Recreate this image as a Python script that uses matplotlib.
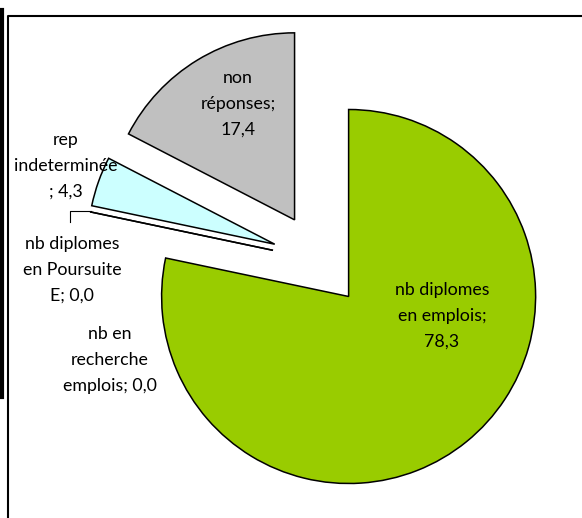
import matplotlib
matplotlib.use("Agg")
import matplotlib.pyplot as plt
from matplotlib.lines import Line2D

# données
categories = ["nb diplomes en emplois", "nb en recherche emplois",
              "nb diplomes en Poursuite E", "rep indeterminée", "non réponses"]
values = [78.3, 0.0, 0.0, 4.3, 17.4]
label_texts = ["nb diplomes\nen emplois;\n78,3",
               "nb en\nrecherche\nemplois; 0,0",
               "nb diplomes\nen Poursuite\nE; 0,0",
               "rep\nindeterminée\n; 4,3",
               "non\nréponses;\n17,4"]

colors = ["#99CC00", "#FFFFFF", "#FFFFFF", "#CCFFFF", "#C0C0C0"]
label_pos = [(442, 316), (110, 360), (72, 270), (66, 166), (238, 104)]

W, H = 582, 518
fig = plt.figure(figsize=(W / 100, H / 100), dpi=100)
ax = fig.add_axes([0, 0, 1, 1])

cx, cy = 319, H - 260
radius = 187
ax.pie(values, colors=colors, startangle=90, counterclock=False,
       explode=[47] * len(values), radius=radius, center=(cx, cy),
       wedgeprops=dict(edgecolor="black", linewidth=1.1))

ax.set_xlim(0, W)
ax.set_ylim(0, H)
ax.set_aspect("equal")
ax.axis("off")

for txt, (x, y) in zip(label_texts, label_pos):
    ax.text(x, H - y, txt, ha="center", va="center", fontsize=12.8,
            family="Lato", linespacing=1.75, color="black")

# ligne de rappel
ax.add_line(Line2D([70, 70, 91], [H - 222, H - 211, H - 211], color="black", lw=0.8))

# cadre
ax.add_line(Line2D([7.5, 7.5, W], [0, H - 16, H - 16], color="black", lw=1.5))
ax.add_line(Line2D([1.5, 1.5], [H - 397, H - 10], color="black", lw=3))

fig.savefig("out.png", dpi=100)
